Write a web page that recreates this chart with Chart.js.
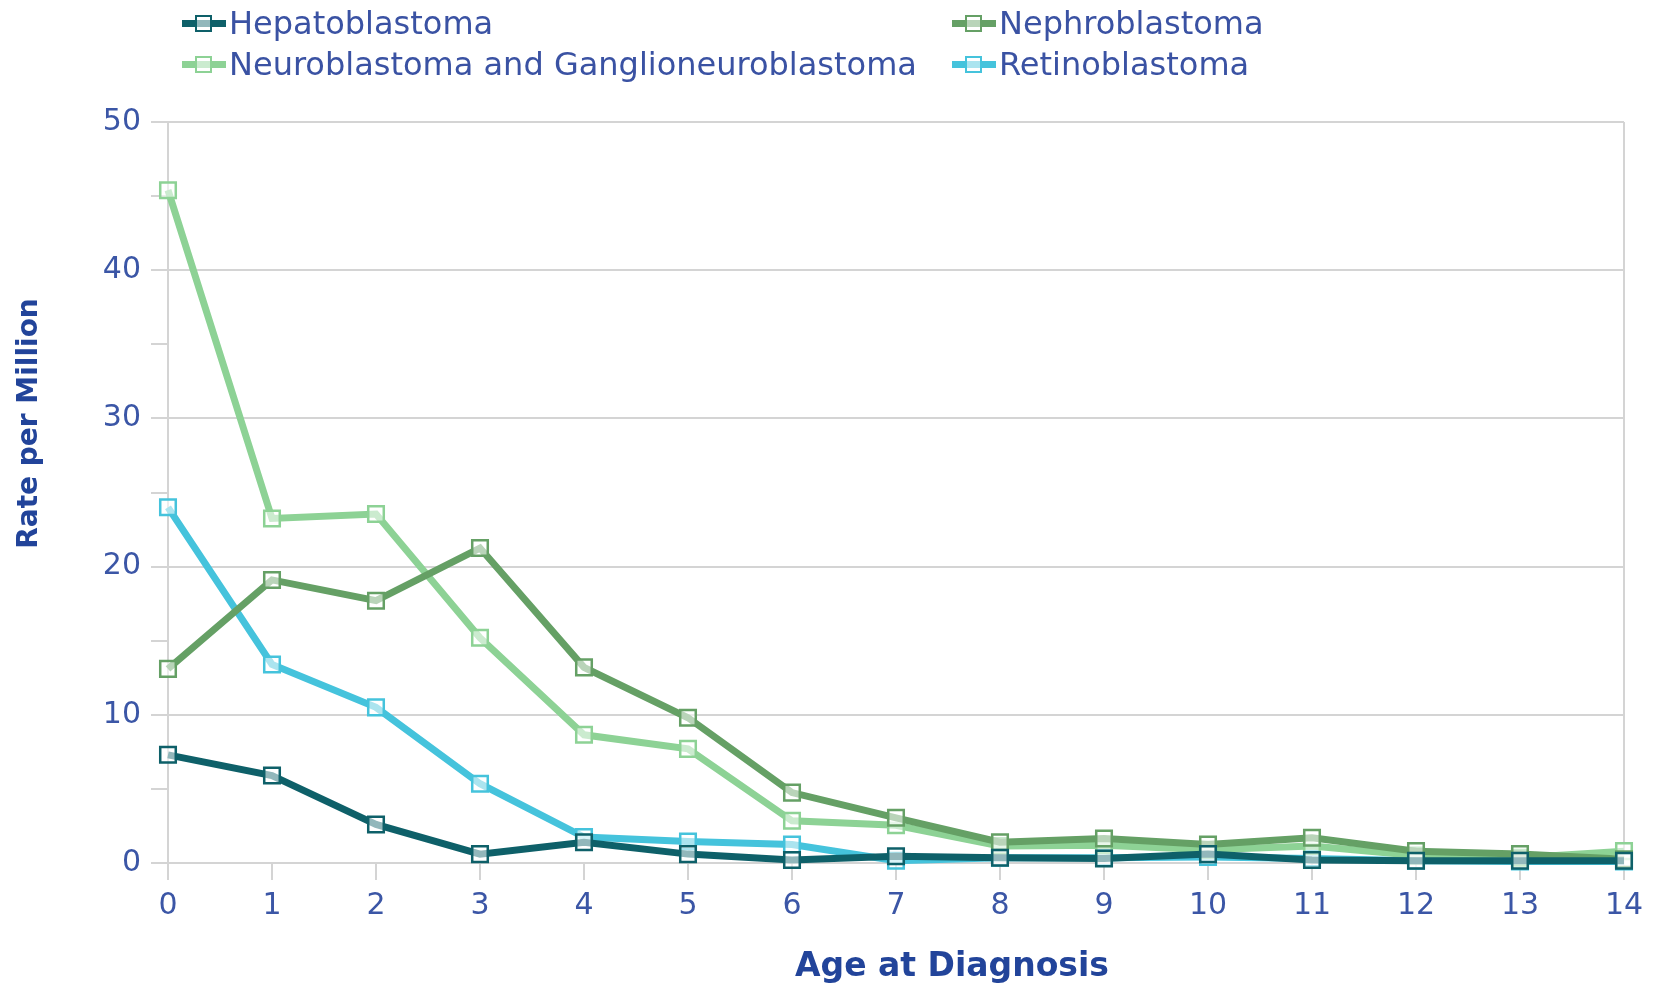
<!DOCTYPE html>
<html>
<head>
<meta charset="utf-8">
<title>Rate per Million by Age at Diagnosis</title>
<script src="https://cdn.jsdelivr.net/npm/chart.js@4.4.1/dist/chart.umd.min.js"></script>
<style>
  body { margin: 0; background: #fff; }
  #wrap { position: relative; width: 1658px; height: 986px; }
  #legend .item {
    position: absolute; display: flex; align-items: center;
    font-family: "DejaVu Sans", sans-serif; font-size: 32px; line-height: 38px;
    color: #3a52a3; white-space: nowrap;
  }
  #legend .icon { position: relative; width: 44px; height: 7px; margin-right: 3px; }
  #legend .icon i {
    position: absolute; left: 13px; top: -5px; width: 13px; height: 13px;
    border: 2.5px solid; background: rgba(255,255,255,0.55);
  }
</style>
</head>
<body>
<div id="wrap">
  <canvas id="chart" width="1658" height="986"></canvas>
  <div id="legend"></div>
</div>
<script>
// Edad al diagnóstico (años)
const ages = ['0', '1', '2', '3', '4', '5', '6', '7', '8', '9', '10', '11', '12', '13', '14'];

const hepatoblastoma = [7.3, 5.9, 2.6, 0.6, 1.4, 0.6, 0.2, 0.45, 0.35, 0.3, 0.6, 0.2, 0.15, 0.15, 0.15];
const nephroblastoma = [13.1, 19.1, 17.7, 21.25, 13.2, 9.8, 4.75, 3.05, 1.4, 1.65, 1.25, 1.7, 0.8, 0.6, 0.25];
const neuroblastoma = [45.4, 23.25, 23.55, 15.2, 8.65, 7.7, 2.85, 2.55, 1.15, 1.2, 0.9, 1.15, 0.5, 0.35, 0.8];
const retinoblastoma = [24.0, 13.4, 10.5, 5.35, 1.75, 1.45, 1.25, 0.15, 0.35, 0.35, 0.4, 0.3, 0.15, 0.1, 0.1];

const seriesNames = ['Hepatoblastoma', 'Nephroblastoma', 'Neuroblastoma and Ganglioneuroblastoma', 'Retinoblastoma'];
const seriesColors = ['#0e6069', '#65a065', '#8dd295', '#45c3dc'];
const seriesValues = [hepatoblastoma, nephroblastoma, neuroblastoma, retinoblastoma];

const xTitle = 'Age at Diagnosis';
const yTitle = 'Rate per Million';
const tickColor = '#3b56a6';
const titleColor = '#22449a';
const gridColor = '#d4d4d4';

const datasets = seriesNames.map((name, i) => ({
    label: name,
    data: seriesValues[i],
    borderColor: seriesColors[i],
    borderWidth: 7,
    tension: 0,
    pointStyle: 'rect',
    pointRadius: 11,
    pointHoverRadius: 11,
    pointBorderWidth: 2.5,
    pointBorderColor: seriesColors[i],
    pointBackgroundColor: 'rgba(255,255,255,0.55)',
    clip: false
}));

// Títulos de los ejes (desplazados como en el original)
const axisTitles = {
    id: 'axisTitles',
    afterDraw(chart) {
        const { ctx, chartArea } = chart;
        ctx.save();
        ctx.fillStyle = titleColor;
        ctx.textAlign = 'center';
        ctx.textBaseline = 'middle';
        ctx.font = 'bold 33px "DejaVu Sans"';
        ctx.fillText(xTitle, (chartArea.left + chartArea.right) / 2 + 56, 967);
        ctx.translate(30, (chartArea.top + chartArea.bottom) / 2 - 69);
        ctx.rotate(-Math.PI / 2);
        ctx.font = 'bold 28px "DejaVu Sans"';
        ctx.fillText(yTitle, 0, 0);
        ctx.restore();
    }
};

new Chart(document.getElementById('chart'), {
    type: 'line',
    data: { labels: ages, datasets: datasets },
    options: {
        responsive: false,
        animation: false,
        devicePixelRatio: 1,
        layout: { padding: { top: 122, right: 34, left: 0, bottom: 0 } },
        plugins: {
            legend: { display: false },
            tooltip: { enabled: false }
        },
        scales: {
            x: {
                offset: false,
                grid: {
                    color: ctx => ctx.index === ages.length - 1 ? gridColor : 'transparent',
                    tickColor: gridColor,
                    lineWidth: 2,
                    tickLength: 17
                },
                border: { display: false },
                ticks: {
                    color: tickColor,
                    font: { family: 'DejaVu Sans', size: 30 },
                    padding: 8,
                    maxRotation: 0,
                    autoSkip: false
                },
                afterFit: scale => { scale.height = 123; }
            },
            y: {
                min: 0,
                max: 50,
                grid: {
                    color: ctx => ctx.tick && ctx.tick.value % 10 === 0 ? gridColor : 'transparent',
                    tickColor: gridColor,
                    lineWidth: 2,
                    tickLength: 17
                },
                border: { display: true, color: gridColor, width: 2 },
                ticks: {
                    stepSize: 5,
                    color: tickColor,
                    font: { family: 'DejaVu Sans', size: 30 },
                    padding: 10,
                    callback: v => v % 10 === 0 ? v : ''
                },
                afterFit: scale => { scale.width = 168; }
            }
        }
    },
    plugins: [axisTitles]
});

// Leyenda en dos columnas
const legend = document.getElementById('legend');
const legendCols = [182, 952];
const legendRows = [4, 45];
seriesNames.forEach((name, i) => {
    const item = document.createElement('div');
    item.className = 'item';
    item.style.left = legendCols[i % 2] + 'px';
    item.style.top = legendRows[Math.floor(i / 2)] + 'px';
    item.innerHTML = '<span class="icon" style="background:' + seriesColors[i] + '"><i style="border-color:' +
        seriesColors[i] + '"></i></span><span>' + name + '</span>';
    legend.appendChild(item);
});
</script>
</body>
</html>
